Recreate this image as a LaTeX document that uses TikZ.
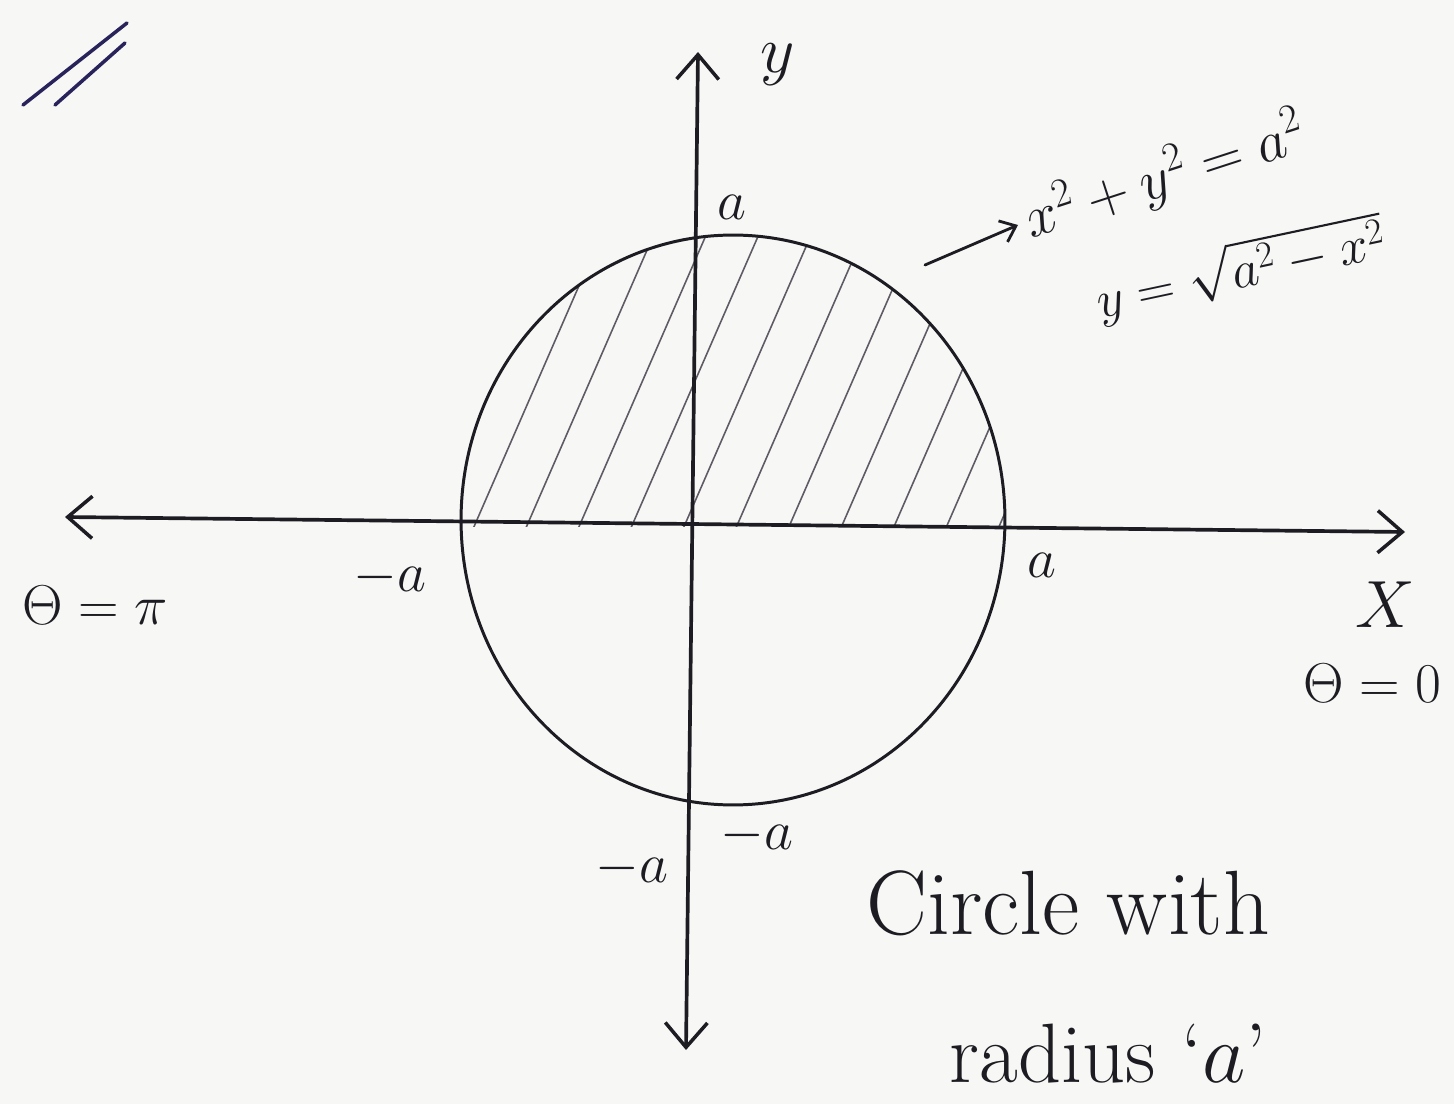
\RequirePackage{fix-cm}
\documentclass[tikz,border=0pt]{standalone}
\usetikzlibrary{arrows.meta}
\definecolor{inkc}{RGB}{28,28,34}
\definecolor{hatchc}{RGB}{95,90,100}
\definecolor{bluink}{RGB}{40,35,90}
\definecolor{bgc}{RGB}{247,247,245}
\begin{document}
\begin{tikzpicture}[x=0.02cm,y=-0.02cm,
  ink/.style={draw=inkc, line width=1.7pt, line cap=round, line join=round},
  axisline/.style={ink, line width=2.1pt,
    {Straight Barb[length=14pt,width=24pt,line width=2pt]}-{Straight Barb[length=14pt,width=24pt,line width=2pt]}},
  hatchline/.style={draw=hatchc, line width=0.9pt},
  lbl/.style={text=inkc, inner sep=0pt, font=\fontsize{32}{38}\selectfont},
  eqn/.style={text=inkc, inner sep=0pt, font=\fontsize{33}{40}\selectfont},
  note/.style={text=inkc, inner sep=0pt, font=\fontsize{48}{56}\selectfont}]
\fill[bgc] (0,0) rectangle (1454,1104);
\useasboundingbox (0,0) rectangle (1454,1104);

% axes
\coordinate (xl) at (65,517);
\coordinate (xr) at (1405,532);
\coordinate (ytop) at (698,52);
\coordinate (ybot) at (686,1050);
\coordinate (o) at (700,530);

% hatching of the upper half
\begin{scope}
  \clip (0,527) rectangle (1454,0);
  \clip (733,520) ellipse [x radius=5.44cm, y radius=5.7cm];
  \foreach \k in {0,...,10}
    \draw[hatchline] ({466+52.5*\k},545) -- ++(170,-390);
\end{scope}

% circle
\draw[ink] (733,520) ellipse [x radius=5.44cm, y radius=5.7cm];

\draw[axisline] (xl) -- (xr);
\draw[axisline] (ybot) -- (ytop);

% axis labels
\node[lbl, font=\fontsize{38}{42}\selectfont] (ylab) at (778,65) {$y$};
\node[lbl, font=\fontsize{38}{42}\selectfont] (xlab) at (1385,605) {$X$};
\node[lbl] (atop) at (732,207) {$a$};
\node[lbl] (aleft) at (390,577) {$-a$};
\node[lbl] (aright) at (1042,565) {$a$};
\node[lbl] (abot1) at (632,868) {$-a$};
\node[lbl] (abot2) at (757,835) {$-a$};
\node[lbl] (tpi) at (95,605) {$\Theta=\pi$};
\node[lbl] (tzero) at (1372,683) {$\Theta=0$};

% equations
\node[eqn, rotate=18, anchor=west] (eq1) at (1026,222) {$x^2+y^2=a^2$};
\node[eqn, rotate=12, anchor=west, font=\fontsize{30}{36}\selectfont] (eq2) at (1096,300) {$y=\sqrt{a^2-x^2}$};
\coordinate (pe) at (925,265);
\draw[ink, line width=1.6pt, -{Straight Barb[length=8pt,width=13pt]}] (pe) -- ([shift={(-8,3)}]eq1.west);

% note
\node[note, font=\fontsize{52}{60}\selectfont] (n1) at (1068,903) {Circle with};
\node[note] (n2) at (1108,1054) {radius `$a$'};

% marks top left
\coordinate (m1a) at (23,105);
\coordinate (m1b) at (127,23);
\coordinate (m2a) at (55,105);
\coordinate (m2b) at (125,43);
\draw[draw=bluink, line width=2pt, line cap=round] (m1a) -- (m1b);
\draw[draw=bluink, line width=2pt, line cap=round] (m2a) -- (m2b);
\end{tikzpicture}
\end{document}
